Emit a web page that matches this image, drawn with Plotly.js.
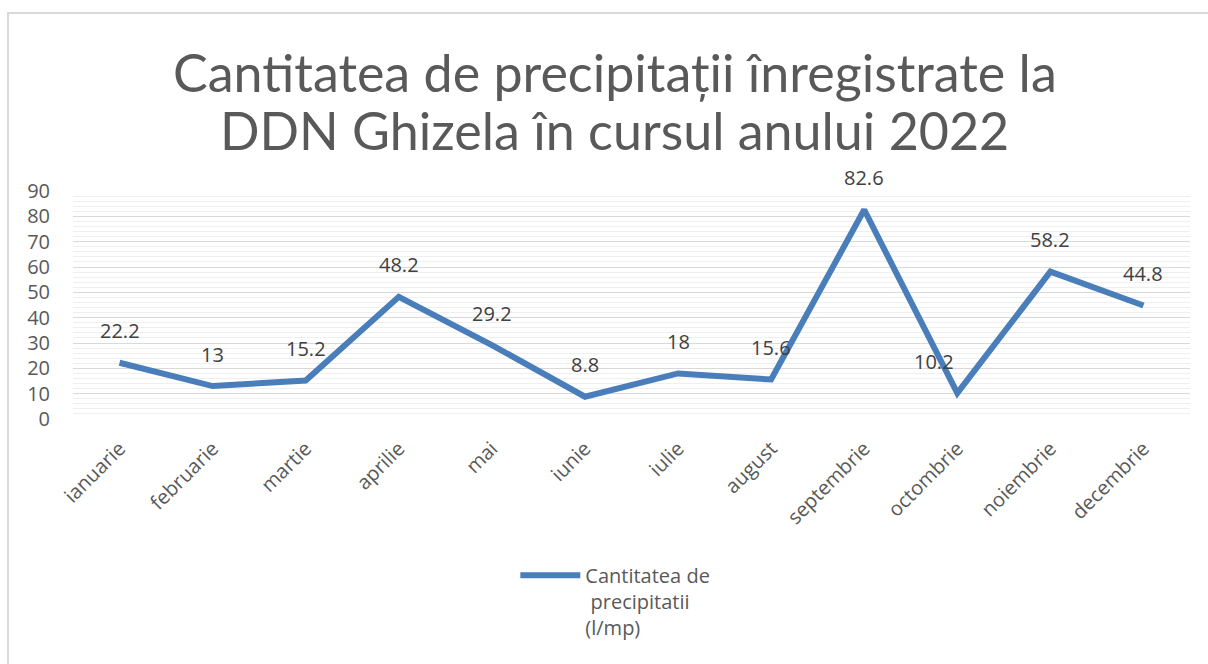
<!DOCTYPE html>
<html>
<head>
<meta charset="utf-8">
<script src="https://cdn.plot.ly/plotly-3.0.1.min.js"></script>
<style>
  body { margin: 0; overflow: hidden; background: #fff; }
  #plot { position: absolute; left: 0; top: 0; width: 1208px; height: 664px; }
  #frame { position: absolute; left: 7px; top: 12px; width: 1220px; height: 680px;
           border: 2px solid #d9d9d9; pointer-events: none; }
</style>
</head>
<body>
<div id="plot"></div>
<div id="frame"></div>
<script>
var months = ['ianuarie', 'februarie', 'martie', 'aprilie', 'mai', 'iunie',
              'iulie', 'august', 'septembrie', 'octombrie', 'noiembrie', 'decembrie'];
var rain = [22.2, 13, 15.2, 48.2, 29.2, 8.8, 18, 15.6, 82.6, 10.2, 58.2, 44.8];
var seriesName = 'Cantitatea de<br> precipitatii<br>(l/mp)';
var titleLine1 = 'Cantitatea de precipitații înregistrate la';
var titleLine2 = 'DDN Ghizela în cursul anului 2022';

var blue = '#4a7ebb';
var font = 'Open Sans, sans-serif';

var data = [{
  x: months,
  y: rain,
  type: 'scatter',
  mode: 'lines',
  name: seriesName,
  line: { color: blue, width: 6, shape: 'linear' },
  hoverinfo: 'x+y'
}];

// value labels above each point
var annotations = [];
for (var i = 0; i < months.length; i++) {
  annotations.push({
    x: months[i],
    y: rain[i],
    text: String(rain[i]),
    showarrow: false,
    yshift: 32,
    xshift: months[i] == 'octombrie' ? -23 : 0,
    font: { family: font, size: 20, color: '#404040' }
  });
}
// second title line (Excel wraps the title tighter than <br> would)
annotations.push({
  xref: 'paper', yref: 'paper',
  x: (614 - 73) / 1117, y: 1,
  xanchor: 'center', yanchor: 'middle',
  yshift: 61,
  showarrow: false,
  text: titleLine2,
  font: { family: 'Lato, sans-serif', size: 52, color: '#595959' }
});

var layout = {
  width: 1208,
  height: 664,
  paper_bgcolor: '#fff',
  plot_bgcolor: '#fff',
  margin: { l: 73, r: 18, t: 191, b: 245 },
  title: {
    text: titleLine1,
    font: { family: 'Lato, sans-serif', size: 52, color: '#595959' },
    x: 0.509,
    xanchor: 'center',
    y: 0.889,
    yanchor: 'middle'
  },
  xaxis: {
    type: 'category',
    range: [-0.5, 11.5],
    tickangle: -45,
    showgrid: false,
    zeroline: false,
    showline: false,
    ticks: '',
    ticklabelstandoff: 13,
    tickfont: { family: font, size: 20, color: '#595959' }
  },
  yaxis: {
    range: [0, 90],
    dtick: 10,
    showgrid: true,
    gridcolor: '#d9d9d9',
    gridwidth: 1,
    zeroline: false,
    showline: false,
    ticks: '',
    ticklabelstandoff: 22,
    tickfont: { family: font, size: 20, color: '#595959' },
    minor: { dtick: 2, showgrid: true, gridcolor: '#efefef', gridwidth: 1 }
  },
  showlegend: true,
  legend: {
    x: 0.396,
    xanchor: 'left',
    y: -0.6,
    yanchor: 'top',
    valign: 'top',
    itemwidth: 60,
    font: { family: font, size: 20, color: '#595959' }
  },
  annotations: annotations
};

Plotly.newPlot('plot', data, layout, { displayModeBar: false, staticPlot: true });
</script>
</body>
</html>
